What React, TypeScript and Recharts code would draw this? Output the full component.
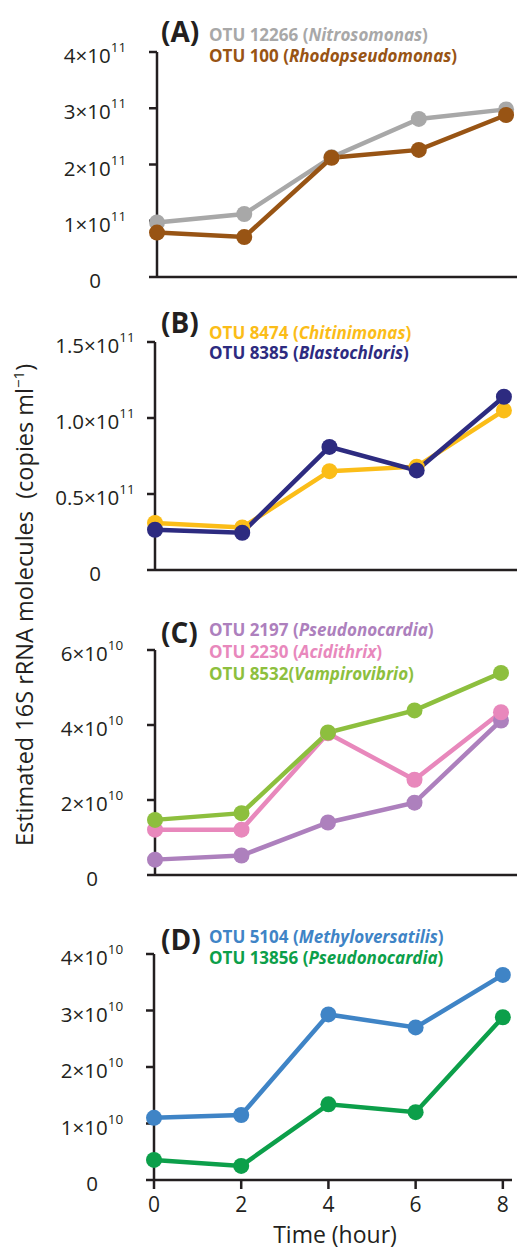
import React from "react";
import { LineChart, Line, XAxis, YAxis } from "recharts";

const time = [0, 2, 4, 6, 8];
const xTicks = [0, 2, 4, 6, 8];
const xTickLabels = ["0", "2", "4", "6", "8"];

// panel A
const nitrosomonas = [0.97e11, 1.12e11, 2.13e11, 2.81e11, 2.98e11];
const rhodopseudomonas = [0.79e11, 0.71e11, 2.12e11, 2.26e11, 2.88e11];
const yTicksA = [0, 1e11, 2e11, 3e11, 4e11];
const yLabelsA = ["0", "1×10^11", "2×10^11", "3×10^11", "4×10^11"];

// panel B
const chitinimonas = [0.31e11, 0.28e11, 0.65e11, 0.68e11, 1.05e11];
const blastochloris = [0.265e11, 0.245e11, 0.81e11, 0.655e11, 1.14e11];
const yTicksB = [0, 0.5e11, 1e11, 1.5e11];
const yLabelsB = ["0", "0.5×10^11", "1.0×10^11", "1.5×10^11"];

// panel C
const pseudonocardia2197 = [0.41e10, 0.52e10, 1.4e10, 1.93e10, 4.12e10];
const acidithrix = [1.21e10, 1.21e10, 3.78e10, 2.54e10, 4.34e10];
const vampirovibrio = [1.47e10, 1.65e10, 3.8e10, 4.39e10, 5.39e10];
const yTicksC = [0, 2e10, 4e10, 6e10];
const yLabelsC = ["0", "2×10^10", "4×10^10", "6×10^10"];

// panel D
const methyloversatilis = [1.1e10, 1.15e10, 2.93e10, 2.7e10, 3.63e10];
const pseudonocardia13856 = [0.355e10, 0.25e10, 1.34e10, 1.2e10, 2.88e10];
const yTicksD = [0, 1e10, 2e10, 3e10, 4e10];
const yLabelsD = ["0", "1×10^10", "2×10^10", "3×10^10", "4×10^10"];

const INK = "#231f20";
const FONT = "'Open Sans', 'DejaVu Sans', sans-serif";

type Series = { key: string; values: number[]; color: string; pre: string; genus: string };

const seriesA: Series[] = [
  { key: "nitro", values: nitrosomonas, color: "#a8a8a8", pre: "OTU 12266 (", genus: "Nitrosomonas" },
  { key: "rhodo", values: rhodopseudomonas, color: "#985414", pre: "OTU 100 (", genus: "Rhodopseudomonas" },
];
const seriesB: Series[] = [
  { key: "chiti", values: chitinimonas, color: "#fbbd18", pre: "OTU 8474 (", genus: "Chitinimonas" },
  { key: "blasto", values: blastochloris, color: "#2d2b80", pre: "OTU 8385 (", genus: "Blastochloris" },
];
const seriesC: Series[] = [
  { key: "pseudo", values: pseudonocardia2197, color: "#ad80bd", pre: "OTU 2197 (", genus: "Pseudonocardia" },
  { key: "acidi", values: acidithrix, color: "#e888bc", pre: "OTU 2230 (", genus: "Acidithrix" },
  { key: "vampi", values: vampirovibrio, color: "#8dbf3e", pre: "OTU 8532(", genus: "Vampirovibrio" },
];
const seriesD: Series[] = [
  { key: "methy", values: methyloversatilis, color: "#3f84c6", pre: "OTU 5104 (", genus: "Methyloversatilis" },
  { key: "pseudo2", values: pseudonocardia13856, color: "#0c9f4a", pre: "OTU 13856 (", genus: "Pseudonocardia" },
];

type Layout = {
  tag: string;
  plotTop: number;
  plotBottom: number;
  axisX: number;
  plotRight: number;
  xMax: number;
  tagY: number;
  legendY: number[];
  labelShift: number;
};

const layoutA: Layout = { tag: "(A)", plotTop: 52, plotBottom: 277, axisX: 157, plotRight: 517, xMax: 8.25, tagY: 42, legendY: [41, 62], labelShift: 52 };
const layoutB: Layout = { tag: "(B)", plotTop: 342, plotBottom: 570, axisX: 155, plotRight: 517, xMax: 8.3, tagY: 333, legendY: [339, 359], labelShift: 50 };
const layoutC: Layout = { tag: "(C)", plotTop: 650, plotBottom: 875, axisX: 155, plotRight: 517, xMax: 8.37, tagY: 643, legendY: [636, 658, 680], labelShift: 53 };
const layoutD: Layout = { tag: "(D)", plotTop: 954, plotBottom: 1180, axisX: 154, plotRight: 512, xMax: 8.21, tagY: 950, legendY: [943, 964], labelShift: 52 };

function YTick(props: any) {
  const { x, y, payload, ticks, labels, shift } = props;
  const label: string = labels[ticks.indexOf(payload.value)] ?? "";
  const [base, exp] = label.split("^");
  return (
    <text x={x - shift} y={y + 3} textAnchor="middle" dominantBaseline="central" fontSize={20.5} fill={INK} fontFamily={FONT}>
      {base}
      {exp ? (
        <tspan dy={-8} fontSize={13.5}>
          {exp}
        </tspan>
      ) : null}
    </text>
  );
}

function XTick(props: any) {
  const { x, y, payload } = props;
  const label = xTickLabels[xTicks.indexOf(payload.value)] ?? "";
  return (
    <text x={x} y={y + 13} textAnchor="middle" dominantBaseline="central" fontSize={21} fill={INK} fontFamily={FONT}>
      {label}
    </text>
  );
}

function Panel({ lay, series, yTicks, yLabels, yMax, showX }: { lay: Layout; series: Series[]; yTicks: number[]; yLabels: string[]; yMax: number; showX: boolean }) {
  const chartTop = lay.plotTop - 26;
  const xAxisH = showX ? 45 : 20;
  const height = lay.plotBottom - chartTop + xAxisH;
  const data = time.map((t, i) => {
    const row: Record<string, number> = { t };
    series.forEach((s) => (row[s.key] = s.values[i]));
    return row;
  });
  return (
    <div style={{ position: "absolute", left: 0, top: chartTop }}>
      <LineChart width={517} height={height} data={data} margin={{ top: lay.plotTop - chartTop, right: 517 - lay.plotRight, left: 0, bottom: 0 }}>
        <XAxis
          dataKey="t"
          type="number"
          domain={[0, lay.xMax]}
          ticks={xTicks}
          height={xAxisH}
          axisLine={{ stroke: INK, strokeWidth: 2.5 }}
          tickLine={{ stroke: INK, strokeWidth: 2.5 }}
          tickSize={9}
          tick={showX ? <XTick /> : false}
        />
        <YAxis
          type="number"
          domain={[0, yMax]}
          ticks={yTicks}
          width={lay.axisX}
          axisLine={{ stroke: INK, strokeWidth: 2.5 }}
          tickLine={{ stroke: INK, strokeWidth: 2.5 }}
          tickSize={8}
          tick={<YTick ticks={yTicks} labels={yLabels} shift={lay.labelShift} />}
        />
        {series.map((s) => (
          <Line
            key={s.key}
            dataKey={s.key}
            stroke={s.color}
            strokeWidth={4.5}
            dot={{ r: 8, fill: s.color, stroke: s.color, strokeWidth: 0 }}
            activeDot={false}
            isAnimationActive={false}
          />
        ))}
      </LineChart>
    </div>
  );
}

function Legend({ lay, series }: { lay: Layout; series: Series[] }) {
  return (
    <g fontFamily={FONT}>
      <text x={161} y={lay.tagY} fontSize={28} fontWeight="bold" fill={INK}>
        {lay.tag}
      </text>
      {series.map((s, i) => (
        <text key={s.key} x={209} y={lay.legendY[i]} fontSize={17} fontWeight="bold" fill={s.color}>
          {s.pre}
          <tspan fontStyle="italic">{s.genus}</tspan>)
        </text>
      ))}
    </g>
  );
}

export default function App() {
  return (
    <div style={{ position: "absolute", left: 0, top: 0, width: 517, height: 1252, background: "#fff", overflow: "hidden" }}>
      <Panel lay={layoutA} series={seriesA} yTicks={yTicksA} yLabels={yLabelsA} yMax={4e11} showX={false} />
      <Panel lay={layoutB} series={seriesB} yTicks={yTicksB} yLabels={yLabelsB} yMax={1.5e11} showX={false} />
      <Panel lay={layoutC} series={seriesC} yTicks={yTicksC} yLabels={yLabelsC} yMax={6e10} showX={false} />
      <Panel lay={layoutD} series={seriesD} yTicks={yTicksD} yLabels={yLabelsD} yMax={4e10} showX={true} />
      <svg width={517} height={1252} style={{ position: "absolute", left: 0, top: 0, pointerEvents: "none" }}>
        <Legend lay={layoutA} series={seriesA} />
        <Legend lay={layoutB} series={seriesB} />
        <Legend lay={layoutC} series={seriesC} />
        <Legend lay={layoutD} series={seriesD} />
        <text
          transform="translate(33 605) rotate(-90)"
          textAnchor="middle"
          fontSize={23.5}
          fill={INK}
          fontFamily={FONT}
          style={{ whiteSpace: "pre" }}
        >
          {"Estimated 16S rRNA molecules  (copies ml"}
          <tspan dy={-9} fontSize={15}>
            −1
          </tspan>
          <tspan dy={9}>)</tspan>
        </text>
        <text x={335} y={1243} textAnchor="middle" fontSize={23} fill={INK} fontFamily={FONT}>
          Time (hour)
        </text>
      </svg>
    </div>
  );
}
